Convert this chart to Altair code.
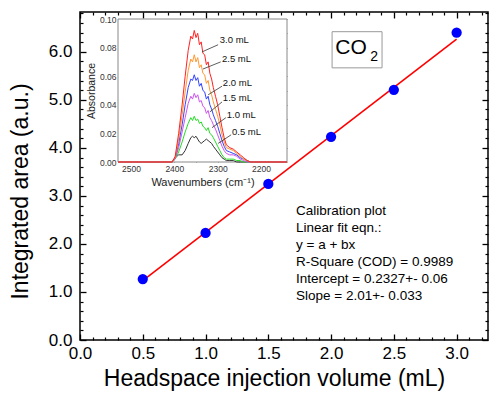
import altair as alt
import pandas as pd

FONT = "Liberation Sans"

# ---------------- main calibration data ----------------
volume = [0.5, 1.0, 1.5, 2.0, 2.5, 3.0]
area = [1.27, 2.23, 3.25, 4.23, 5.21, 6.40]
fit_x = [0.5, 3.0]
fit_y = [1.238, 6.263]

x_major = [0.0, 0.5, 1.0, 1.5, 2.0, 2.5, 3.0]
x_minor = [0.1, 0.2, 0.3, 0.4, 0.6, 0.7, 0.8, 0.9, 1.1, 1.2, 1.3, 1.4, 1.6, 1.7, 1.8, 1.9,
           2.1, 2.2, 2.3, 2.4, 2.6, 2.7, 2.8, 2.9, 3.1, 3.2]
y_major = [0.0, 1.0, 2.0, 3.0, 4.0, 5.0, 6.0]
y_minor = [0.2, 0.4, 0.6, 0.8, 1.2, 1.4, 1.6, 1.8, 2.2, 2.4, 2.6, 2.8, 3.2, 3.4, 3.6, 3.8,
           4.2, 4.4, 4.6, 4.8, 5.2, 5.4, 5.6, 5.8, 6.2, 6.4, 6.6, 6.8]

calib_lines = ["Calibration plot", "Linear fit eqn.:", "y = a + bx",
               "R-Square (COD) = 0.9989", "Intercept = 0.2327+- 0.06", "Slope = 2.01+- 0.033"]

# ---------------- inset spectra ----------------
wavenumber = [2530, 2405, 2398, 2390, 2382, 2375, 2368, 2362, 2358, 2354, 2350, 2346, 2342,
              2338, 2334, 2330, 2326, 2322, 2318, 2314, 2310, 2305, 2300, 2295, 2290, 2285,
              2280, 2272, 2264, 2256, 2248, 2240, 2232, 2224, 2140]
abs_30 = [0, 0, 0.004, 0.020, 0.040, 0.060, 0.078, 0.088, 0.086, 0.092, 0.087, 0.090, 0.082,
          0.084, 0.076, 0.075, 0.068, 0.070, 0.062, 0.058, 0.052, 0.046, 0.040, 0.032, 0.024,
          0.017, 0.012, 0.010, 0.009, 0.007, 0.005, 0.003, 0.001, 0, 0]
abs_25 = [0, 0, 0.003, 0.016, 0.033, 0.049, 0.064, 0.072, 0.070, 0.075, 0.070, 0.073, 0.066,
          0.068, 0.062, 0.061, 0.055, 0.057, 0.050, 0.047, 0.042, 0.037, 0.032, 0.026, 0.019,
          0.014, 0.010, 0.009, 0.008, 0.006, 0.004, 0.002, 0.001, 0, 0]
abs_20 = [0, 0, 0.003, 0.013, 0.026, 0.040, 0.052, 0.058, 0.057, 0.061, 0.057, 0.059, 0.053,
          0.055, 0.050, 0.049, 0.044, 0.046, 0.040, 0.037, 0.033, 0.029, 0.025, 0.020, 0.015,
          0.011, 0.008, 0.007, 0.006, 0.005, 0.003, 0.002, 0.001, 0, 0]
abs_15 = [0, 0, 0.002, 0.010, 0.021, 0.031, 0.041, 0.046, 0.044, 0.048, 0.045, 0.047, 0.042,
          0.043, 0.039, 0.038, 0.034, 0.036, 0.031, 0.029, 0.026, 0.023, 0.019, 0.015, 0.011,
          0.008, 0.006, 0.005, 0.005, 0.004, 0.002, 0.001, 0, 0, 0]
abs_10 = [0, 0, 0.002, 0.007, 0.014, 0.021, 0.027, 0.031, 0.029, 0.032, 0.029, 0.030, 0.027,
          0.028, 0.025, 0.024, 0.022, 0.024, 0.020, 0.019, 0.017, 0.014, 0.011, 0.008, 0.005,
          0.003, 0.002, 0.002, 0.002, 0.001, 0.001, 0, 0, 0, 0]
abs_05 = [0, 0, 0.003, 0.005, 0.005, 0.008, 0.013, 0.017, 0.018, 0.017, 0.018, 0.016, 0.014,
          0.013, 0.014, 0.015, 0.016, 0.015, 0.014, 0.013, 0.011, 0.009, 0.007, 0.005, 0.003,
          0.002, 0.001, 0.001, 0.001, 0, 0, 0, 0, 0, 0]

series_names = ["0.5 mL", "1.0 mL", "1.5 mL", "2.0 mL", "2.5 mL", "3.0 mL"]
series_values = [abs_05, abs_10, abs_15, abs_20, abs_25, abs_30]
series_colors = ["#333333", "#22dd22", "#cc55ee", "#3344ff", "#ff9933", "#ff2222"]

label_wn = [2267, 2279, 2288, 2288, 2290, 2295]
label_abs = [0.021, 0.033, 0.045, 0.055, 0.072, 0.085]
leader_wn1 = [2299, 2313, 2318, 2322, 2334, 2336]
leader_abs1 = [0.013, 0.024, 0.035, 0.047, 0.065, 0.077]
leader_wn2 = [2269, 2281, 2290, 2290, 2293, 2299]
leader_abs2 = [0.019, 0.031, 0.042, 0.053, 0.070, 0.082]

in_x_major = [2500, 2400, 2300, 2200]
in_x_minor = [2450, 2350, 2250, 2150]
in_y_major = [0.0, 0.02, 0.04, 0.06, 0.08, 0.10]
in_y_minor = [0.01, 0.03, 0.05, 0.07, 0.09]

# ---------------- tables ----------------
pts = pd.DataFrame({"v": volume, "a": area})
fit = pd.DataFrame({"v": fit_x, "a": fit_y})
spec_rows = []
for name, vals in zip(series_names, series_values):
    for i, (w, a) in enumerate(zip(wavenumber, vals)):
        spec_rows.append({"wn": w, "ab": a, "s": name, "i": i})
spec = pd.DataFrame(spec_rows)
labels = pd.DataFrame({"wn": label_wn, "ab": label_abs, "t": series_names})
leaders = pd.DataFrame({"w1": leader_wn1, "a1": leader_abs1, "w2": leader_wn2, "a2": leader_abs2})

W, H = 408, 328
XM = alt.Scale(domain=[0, 3.25], nice=False, zero=False)
YM = alt.Scale(domain=[0, 6.83], nice=False, zero=False)
# inset placed inside the plot through pixel ranges
IX0, IX1, IY0, IY1 = 38, 207, 150, 7
XI = alt.Scale(domain=[2530, 2140], range=[IX0, IX1], nice=False, zero=False)
YI = alt.Scale(domain=[0, 0.1], range=[IY0, IY1], nice=False, zero=False)

dm = pd.DataFrame({"x": [1.0], "y": [1.0]})
di = pd.DataFrame({"x": [2300.0], "y": [0.05]})


def axl(d, xs, ys, xa, ya):
    return alt.Chart(d).mark_point(opacity=0).encode(
        x=alt.X("x:Q", scale=xs, axis=xa), y=alt.Y("y:Q", scale=ys, axis=ya))


MT, mt = 6, 3
mc = dict(domain=False, labelFlush=False, tickColor="black", labelColor="black",
          titleColor="black", titleFontWeight="normal", labelFont=FONT, titleFont=FONT, grid=False)
main_axes = [
    axl(dm, XM, YM,
        alt.Axis(orient="bottom", values=x_major, format=".1f", tickSize=MT, offset=-MT,
                 labelFontSize=17, labelPadding=5, title="Headspace injection volume (mL)",
                 titleFontSize=23, titlePadding=6, titleX=194, tickWidth=1.3, **mc),
        alt.Axis(orient="left", values=y_major, format=".1f", tickSize=MT, offset=-MT,
                 labelFontSize=17, labelPadding=8, title="Integrated area (a.u.)",
                 titleFontSize=23, titlePadding=16, titleY=179, tickWidth=1.3, **mc)),
    axl(dm, XM, YM,
        alt.Axis(orient="bottom", values=x_minor, tickSize=mt, offset=-mt, labels=False,
                 title=None, tickWidth=1.2, **mc),
        alt.Axis(orient="left", values=y_minor, tickSize=mt, offset=-mt, labels=False,
                 title=None, tickWidth=1.2, **mc)),
    axl(dm, XM, YM,
        alt.Axis(orient="top", values=x_major, tickSize=MT, offset=-MT, labels=False,
                 title=None, tickWidth=1.3, **mc),
        alt.Axis(orient="right", values=y_major, tickSize=MT, offset=-MT, labels=False,
                 title=None, tickWidth=1.3, **mc)),
    axl(dm, XM, YM,
        alt.Axis(orient="top", values=x_minor, tickSize=mt, offset=-mt, labels=False,
                 title=None, tickWidth=1.2, **mc),
        alt.Axis(orient="right", values=y_minor, tickSize=mt, offset=-mt, labels=False,
                 title=None, tickWidth=1.2, **mc)),
]

IT, it = 3, 2
ic = dict(tickColor="#555555", labelColor="#333333", titleColor="#222222", domain=False,
          tickWidth=0.8, labelFlush=False, titleFontWeight="normal", labelFont=FONT,
          titleFont=FONT, grid=False)
bot_off = -(H - IY0)
right_off = -(W - IX1)
inset_axes = [
    axl(di, XI, YI,
        alt.Axis(orient="bottom", values=in_x_major, format="d", tickSize=IT, offset=bot_off - IT,
                 labelFontSize=8.5, labelPadding=2, title="Wavenumbers (cm\u207b\u00b9)",
                 titleFontSize=11, titlePadding=4, **ic),
        alt.Axis(orient="left", values=in_y_major, format=".2f", tickSize=IT, offset=-(IX0 + IT),
                 labelFontSize=8.5, labelPadding=2, title="Absorbance", titleFontSize=10.5,
                 titlePadding=3, **ic)),
    axl(di, XI, YI,
        alt.Axis(orient="bottom", values=in_x_minor, tickSize=it, offset=bot_off - it, labels=False,
                 title=None, **ic),
        alt.Axis(orient="left", values=in_y_minor, tickSize=it, offset=-(IX0 + it), labels=False,
                 title=None, **ic)),
    axl(di, XI, YI,
        alt.Axis(orient="top", values=in_x_major, tickSize=IT, offset=-(IY1 + IT), labels=False,
                 title=None, **ic),
        alt.Axis(orient="right", values=in_y_major, tickSize=IT, offset=right_off - IT, labels=False,
                 title=None, **ic)),
    axl(di, XI, YI,
        alt.Axis(orient="top", values=in_x_minor, tickSize=it, offset=-(IY1 + it), labels=False,
                 title=None, **ic),
        alt.Axis(orient="right", values=in_y_minor, tickSize=it, offset=right_off - it, labels=False,
                 title=None, **ic)),
]

# ---------------- data marks ----------------
inset_frame = alt.Chart(pd.DataFrame({"x": [2530], "x2": [2140], "y": [0.0], "y2": [0.1]})).mark_rect(
    fill="white", stroke="#888888", strokeWidth=1).encode(
    x=alt.X("x:Q", scale=XI, axis=None), x2="x2:Q",
    y=alt.Y("y:Q", scale=YI, axis=None), y2="y2:Q")

spec_lines = alt.Chart(spec).mark_line(strokeWidth=1).encode(
    x=alt.X("wn:Q", scale=XI, axis=None),
    y=alt.Y("ab:Q", scale=YI, axis=None),
    color=alt.Color("s:N", scale=alt.Scale(domain=series_names, range=series_colors), legend=None),
    order="i:Q")

leader_rules = alt.Chart(leaders).mark_rule(color="#333333", strokeWidth=0.8).encode(
    x=alt.X("w1:Q", scale=XI, axis=None), x2="w2:Q",
    y=alt.Y("a1:Q", scale=YI, axis=None), y2="a2:Q")

label_text = alt.Chart(labels).mark_text(align="left", baseline="middle", fontSize=9.5,
                                         font=FONT, color="#111111").encode(
    x=alt.X("wn:Q", scale=XI, axis=None), y=alt.Y("ab:Q", scale=YI, axis=None), text="t:N")

fit_line = alt.Chart(fit).mark_line(color="#ff0000", strokeWidth=1.6).encode(
    x=alt.X("v:Q", scale=XM, axis=None), y=alt.Y("a:Q", scale=YM, axis=None))

points = alt.Chart(pts).mark_circle(size=105, color="#0000ff", opacity=1).encode(
    x=alt.X("v:Q", scale=XM, axis=None), y=alt.Y("a:Q", scale=YM, axis=None))

co2_box = alt.Chart(pd.DataFrame({"x": [2.008], "x2": [2.406], "y": [6.42], "y2": [5.667]})).mark_rect(
    fill="white", stroke="#999999", strokeWidth=1).encode(
    x=alt.X("x:Q", scale=XM, axis=None), x2="x2:Q",
    y=alt.Y("y:Q", scale=YM, axis=None), y2="y2:Q")

co_text = alt.Chart(pd.DataFrame({"x": [2.159], "y": [6.08], "t": ["CO"]})).mark_text(
    fontSize=21, font=FONT, color="black", baseline="middle", align="center").encode(
    x=alt.X("x:Q", scale=XM, axis=None), y=alt.Y("y:Q", scale=YM, axis=None), text="t:N")

sub_text = alt.Chart(pd.DataFrame({"x": [2.343], "y": [5.90], "t": ["2"]})).mark_text(
    fontSize=14, font=FONT, color="black", baseline="middle", align="center").encode(
    x=alt.X("x:Q", scale=XM, axis=None), y=alt.Y("y:Q", scale=YM, axis=None), text="t:N")

calib = alt.Chart(pd.DataFrame({"x": [1.721], "y": [2.833]})).mark_text(
    text=calib_lines, align="left", baseline="top", fontSize=13.5, lineHeight=17,
    font=FONT, color="black").encode(
    x=alt.X("x:Q", scale=XM, axis=None), y=alt.Y("y:Q", scale=YM, axis=None))

chart = alt.layer(
    *main_axes, inset_frame, spec_lines, leader_rules, label_text, *inset_axes,
    fit_line, points, co2_box, co_text, sub_text, calib
).resolve_scale(x="independent", y="independent", color="independent").resolve_axis(
    x="independent", y="independent"
).properties(
    width=W, height=H,
    background="white",
    autosize=alt.AutoSizeParams(type="none"),
    padding={"left": 80, "top": 12, "right": 1, "bottom": 54},
).configure_view(stroke="black", strokeWidth=1.5).configure_axis(
    grid=False, labelFont=FONT, titleFont=FONT, titleFontWeight="normal",
    tickColor="black", labelColor="black", titleColor="black"
)

chart.save("out.html", embed_options={"renderer": "svg", "actions": False})
